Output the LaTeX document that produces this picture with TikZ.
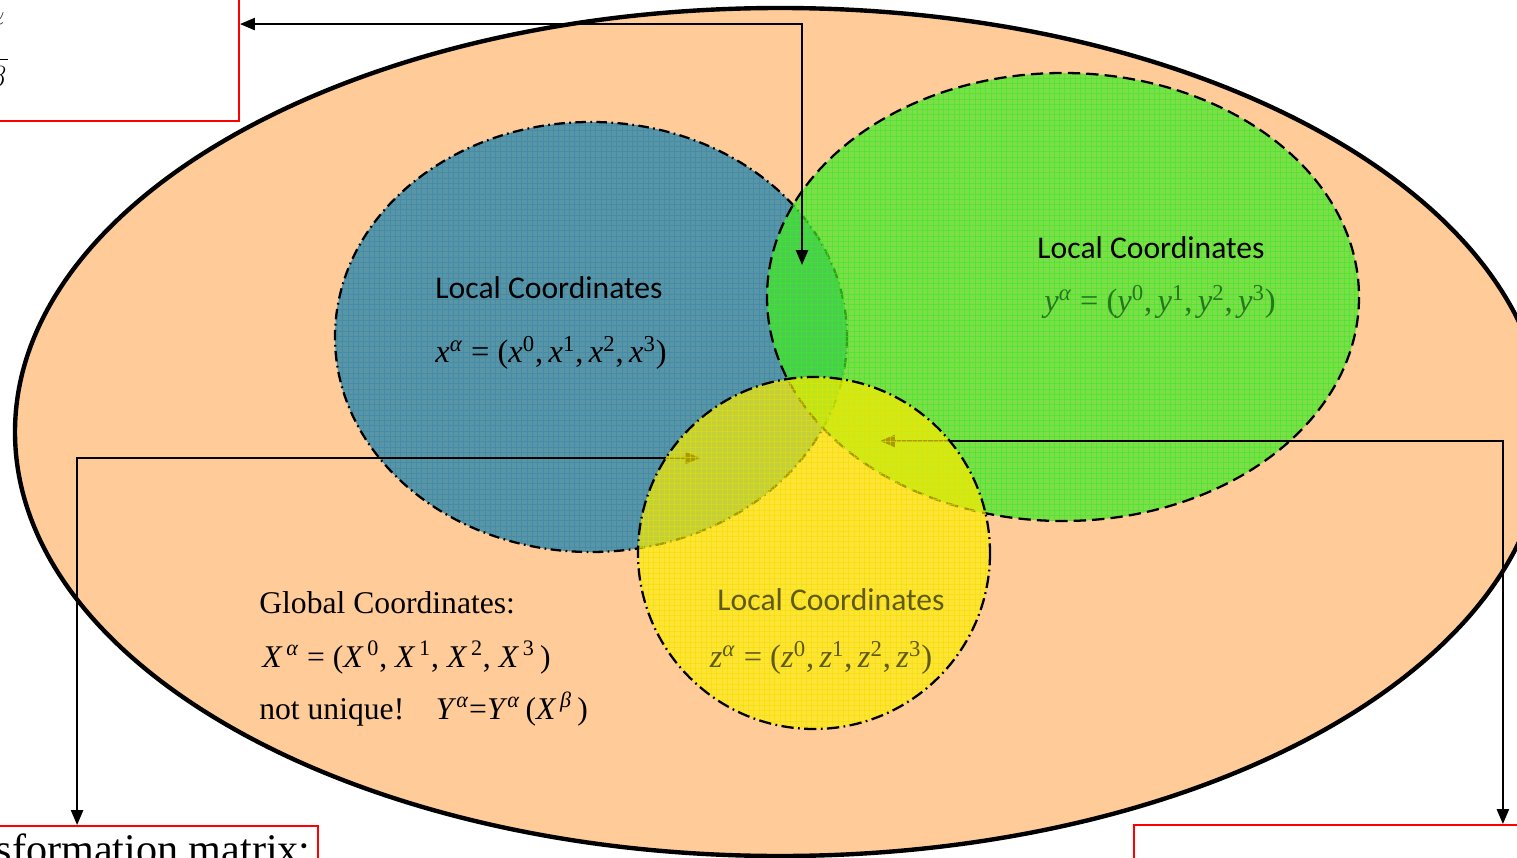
\documentclass[tikz,border=0pt]{standalone}
\usepackage{fontspec}
\setmainfont{Liberation Serif}
\newfontfamily\calibri{Carlito}
\usetikzlibrary{arrows.meta,patterns}

\definecolor{bgorange}{RGB}{255,204,153}
\definecolor{tealfill}{RGB}{88,150,165}
\definecolor{tealgrid}{RGB}{70,140,170}
\definecolor{greenfill}{RGB}{70,230,40}
\definecolor{greengrid}{RGB}{60,235,40}
\definecolor{yellowfill}{RGB}{255,240,0}
\definecolor{yellowgrid}{RGB}{235,225,0}
\definecolor{boxred}{RGB}{255,0,0}
\definecolor{ytext}{RGB}{35,120,30}
\definecolor{ztext}{RGB}{95,90,20}

% italic symbol with a superscript
\newcommand\sv[2]{\textit{#1}\textsuperscript{#2}}

\tikzset{
  manifold/.style={fill=bgorange, draw=black, line width=2.5pt},
  patch/.style={line width=1.3pt},
  conn/.style={line width=0.85pt, {Triangle[length=8.5pt,width=7pt]}-{Triangle[length=8.5pt,width=7pt]}},
  redbox/.style={draw=boxred, line width=1.1pt, fill=white, rectangle, inner sep=0pt},
  label/.style={font=\calibri\fontsize{18}{20}\selectfont, inner sep=0pt},
  formula/.style={font=\fontsize{18.5}{20}\selectfont, inner sep=0pt},
  plain/.style={font=\fontsize{18}{20}\selectfont, inner sep=0pt}
}

\begin{document}
\begin{tikzpicture}[x=0.02cm,y=-0.02cm]
\useasboundingbox (0,0) rectangle (1517,858);
\clip (0,0) rectangle (1517,858);

% the manifold
\draw[manifold] (780,432) ellipse [x radius=765, y radius=424];

% chart x
\fill[tealfill] (591,337) ellipse [x radius=256, y radius=215];
\fill[pattern=grid, pattern color=tealgrid] (591,337) ellipse [x radius=256, y radius=215];
\draw[patch, dash pattern=on 6pt off 2.5pt on 1pt off 2.5pt] (591,337) ellipse [x radius=256, y radius=215];

% chart y
\fill[greenfill, opacity=0.7] (1063,297) ellipse [x radius=296, y radius=224];
\fill[pattern=grid, pattern color=greengrid, opacity=0.6] (1063,297) ellipse [x radius=296, y radius=224];
\draw[patch, dash pattern=on 7pt off 3.5pt] (1063,297) ellipse [x radius=296, y radius=224];

% boxes holding the transformations
\node[redbox, minimum width=6.8cm, minimum height=3.88cm, anchor=south east] (boxTL) at (240,122) {};
\node[redbox, minimum width=9.64cm, minimum height=3cm, anchor=north east] (boxBL) at (319,825) {};
\node[redbox, minimum width=14.76cm, minimum height=3cm, anchor=north west] (boxBR) at (1133,824) {};

% arrow ends inside the overlaps
\coordinate (lensTip) at (802,265);
\coordinate (leftTip) at (700,458);
\coordinate (rightTip) at (880,441);

\draw[conn] (lensTip) |- (boxTL.east);
\draw[conn] (leftTip) -| (boxBL.north);
\draw[conn] (rightTip) -| (boxBR.north);

% chart z, laid over the arrows
\fill[yellowfill, opacity=0.65] (814,553) circle [radius=176];
\fill[pattern=grid, pattern color=yellowgrid, opacity=0.5] (814,553) circle [radius=176];
\draw[patch, dash pattern=on 7pt off 2.5pt on 1pt off 2.5pt] (814,553) circle [radius=176];

% box contents
\node[anchor=east, inner sep=0pt, font=\fontsize{25}{27}\selectfont] (jac) at (10,55)
  {$\Lambda^{\alpha}{}_{\beta}=\displaystyle\frac{\partial Y^{\alpha}}{\partial X^{\beta}}$};
\node[anchor=base east, inner sep=0pt, font=\fontsize{24}{26}\selectfont] (tm) at (311,863)
  {Transformation matrix:};

% chart labels
\node[label] (lx) at (549,288) {Local Coordinates};
\node[formula] (fx) at (551,353) {\sv{x}{\textit{α}} = (\sv{x}{0},\,\sv{x}{1},\,\sv{x}{2},\,\sv{x}{3})};
\node[label] (ly) at (1151,248) {Local Coordinates};
\node[formula, text=ytext] (fy) at (1160,302) {\sv{y}{\textit{α}} = (\sv{y}{0},\,\sv{y}{1},\,\sv{y}{2},\,\sv{y}{3})};
\node[label, text=ztext] (lz) at (831,600) {Local Coordinates};
\node[formula, text=ztext] (fz) at (821,658) {\sv{z}{\textit{α}} = (\sv{z}{0},\,\sv{z}{1},\,\sv{z}{2},\,\sv{z}{3})};

% global coordinates
\node[plain, anchor=base west] (g1) at (259,613) {Global Coordinates:};
\node[plain, anchor=base west] (g2) at (262,667) {\sv{X}{\,\textit{α}} = (\sv{X}{\,0}, \sv{X}{\,1}, \sv{X}{\,2}, \sv{X}{\,3}\,)};
\node[plain, anchor=base west] (g3) at (259,719) {not unique!\enspace\, \sv{Y}{\textit{α}}=\sv{Y}{\textit{α}}\,(\sv{X}{\,\textit{β}}\,)};
\end{tikzpicture}
\end{document}
